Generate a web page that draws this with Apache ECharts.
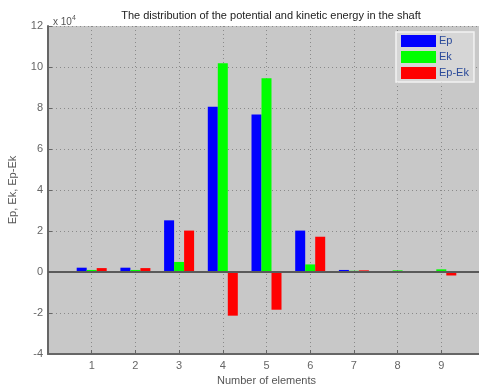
<!DOCTYPE html>
<html><head><meta charset="utf-8">
<script src="https://cdn.jsdelivr.net/npm/echarts@6/dist/echarts.min.js"></script>
<style>html,body{margin:0;padding:0;background:#fff}#c{width:479px;height:385px}</style>
</head><body><div id="c"></div>
<script>
// values in units of 10^4
const elements = [1, 2, 3, 4, 5, 6, 7, 8, 9];
const ep   = [0.21, 0.21, 2.52, 8.06, 7.68, 2.02, 0.10, 0.01, 0.01];
const ek   = [0.10, 0.10, 0.49, 10.18, 9.45, 0.37, 0.06, 0.08, 0.13];
const epek = [0.19, 0.19, 2.02, -2.13, -1.84, 1.72, 0.08, -0.05, -0.17];
const yTicks = [-4, -2, 0, 2, 4, 6, 8, 10, 12];

const font = 'Liberation Sans, Arial, sans-serif';
const pair = arr => elements.map((x, i) => [x, arr[i]]);
const chart = echarts.init(document.getElementById('c'));
chart.setOption({
  animation: false,
  backgroundColor: '#ffffff',
  title: [
    { text: 'The distribution of the potential and kinetic energy in the shaft', left: 266, top: 5, textAlign: 'center',
      textStyle: { fontFamily: font, fontSize: 11, fontWeight: 'normal', color: '#222' } },
    { text: 'x 10{s|4}', left: 48, top: 10,
      textStyle: { fontFamily: font, fontSize: 10, fontWeight: 'normal', color: '#555',
        rich: { s: { fontSize: 7, verticalAlign: 'top', color: '#555', padding: [0, 0, 8, 0] } } } }
  ],
  legend: {
    data: ['Ep', 'Ek', 'Ep-Ek'], orient: 'vertical', left: 396, top: 32,
    itemWidth: 35, itemHeight: 12, itemGap: 4, icon: 'rect',
    padding: [3, 5, 3, 5], backgroundColor: '#d6d6d6', borderColor: '#f2f2f2', borderWidth: 1.5,
    textStyle: { fontFamily: font, fontSize: 11, color: '#2a4a9a', padding: [0, 0, 0, -2] }
  },
  grid: { left: 48, top: 26, width: 437, height: 328, outerBoundsMode: 'none', containLabel: false,
    backgroundColor: '#c8c8c8', show: true, borderWidth: 0 },
  xAxis: {
    type: 'value', min: 0, max: 10, interval: 1,
    name: 'Number of elements', nameLocation: 'middle', nameGap: 19,
    nameTextStyle: { fontFamily: font, fontSize: 11, color: '#555' },
    axisLine: { onZero: false, lineStyle: { color: '#666', width: 2 } },
    axisTick: { inside: true, length: 4, lineStyle: { color: '#666' } },
    axisLabel: { fontFamily: font, fontSize: 11, color: '#666', margin: 6,
      formatter: v => (v >= 1 && v <= 9) ? String(v) : '' },
    splitLine: { show: true, lineStyle: { type: [1, 3], color: '#8a8a8a', width: 1 } }
  },
  yAxis: {
    type: 'value', min: -4, max: 12, interval: 2,
    name: 'Ep, Ek, Ep-Ek', nameLocation: 'middle', nameGap: 30,
    nameTextStyle: { fontFamily: font, fontSize: 11, color: '#555' },
    axisLine: { show: true, onZero: false, lineStyle: { color: '#666', width: 2 } },
    axisTick: { show: true, inside: true, length: 4, lineStyle: { color: '#666' } },
    axisLabel: { fontFamily: font, fontSize: 11, color: '#666', margin: 5, formatter: v => String(v) },
    splitLine: { show: true, lineStyle: { type: [1, 3], color: '#8a8a8a', width: 1 } }
  },
  series: [
    { name: 'Ep', type: 'bar', data: pair(ep), barWidth: 10, barGap: '0%', itemStyle: { color: '#0000ff' },
      markLine: { silent: true, symbol: 'none', label: { show: false },
        lineStyle: { color: '#5a5a5a', width: 2, type: 'solid' }, data: [{ yAxis: 0 }] },
      z: 2 },
    { name: 'Ek', type: 'bar', data: pair(ek), barWidth: 10, barGap: '0%', itemStyle: { color: '#00ff00' }, z: 3 },
    { name: 'Ep-Ek', type: 'bar', data: pair(epek), barWidth: 10, barGap: '0%', itemStyle: { color: '#ff0000' }, z: 3 }
  ]
});
</script></body></html>
